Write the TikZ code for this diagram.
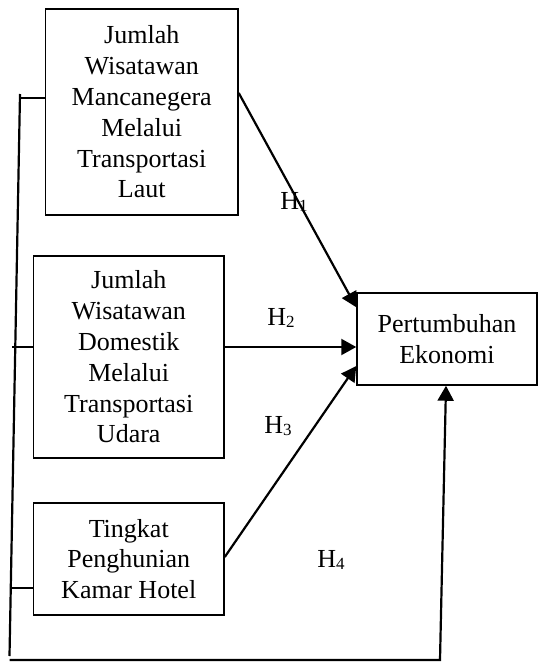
\documentclass[tikz,border=0pt]{standalone}
\usepackage{fontspec}
\setmainfont{Liberation Serif}
\usetikzlibrary{arrows.meta}
\begin{document}
\begin{tikzpicture}[x=1pt,y=-1pt,
  box/.style={draw,line width=1.5pt,inner sep=0pt,align=center,
    font=\fontsize{26}{30.8}\selectfont},
  link/.style={line width=2.2pt},
  arr/.style={link,-{Triangle[length=15pt,width=16pt]}},
  hlab/.style={font=\fontsize{26}{30}\selectfont,inner sep=0pt}]
\useasboundingbox (0,0) rectangle (538,662);
\node[box,minimum width=192.5pt,minimum height=206pt] (b1) at (141.75,112)
  {Jumlah\\Wisatawan\\Mancanegera\\Melalui\\Transportasi\\Laut};
\node[box,minimum width=190.5pt,minimum height=202pt] (b2) at (128.75,357)
  {Jumlah\\Wisatawan\\Domestik\\Melalui\\Transportasi\\Udara};
\node[box,minimum width=190.5pt,minimum height=112pt] (b3) at (128.75,559)
  {Tingkat\\Penghunian\\Kamar Hotel};
\node[box,minimum width=180pt,minimum height=92pt] (t) at (447,339)
  {Pertumbuhan\\Ekonomi};
% hypothesis arrows
\draw[arr] ([yshift=19pt]b1.east) -- ([yshift=-15pt]t.north west);
\draw[arr] ([yshift=10pt]b2.east) -- ([yshift=-8pt]t.west);
\draw[arr] ([yshift=2pt]b3.east) -- ([yshift=-27pt]t.west);
% left bracket line
\coordinate (ltop) at (20,94);
\coordinate (lbot) at (9.5,656);
\coordinate (bl) at (9.5,660);
\coordinate (br) at (440,660);
\draw[link] (ltop) -- (lbot);
\draw[link] (20,98) -- ([yshift=14pt]b1.west);
\draw[link] (12,347) -- ([yshift=10pt]b2.west);
\draw[link] (11,588) -- ([yshift=-29pt]b3.west);
\draw[arr] (bl) -- (br) -- ([xshift=-1pt]t.south);
% labels
\node[hlab] (h1) at (294,202) {H\raisebox{-2pt}{\fontsize{17}{17}\selectfont 1}};
\node[hlab] (h2) at (281,318) {H\raisebox{-2pt}{\fontsize{17}{17}\selectfont 2}};
\node[hlab] (h3) at (278,426) {H\raisebox{-2pt}{\fontsize{17}{17}\selectfont 3}};
\node[hlab] (h4) at (331,560) {H\raisebox{-2pt}{\fontsize{17}{17}\selectfont 4}};
\end{tikzpicture}
\end{document}
